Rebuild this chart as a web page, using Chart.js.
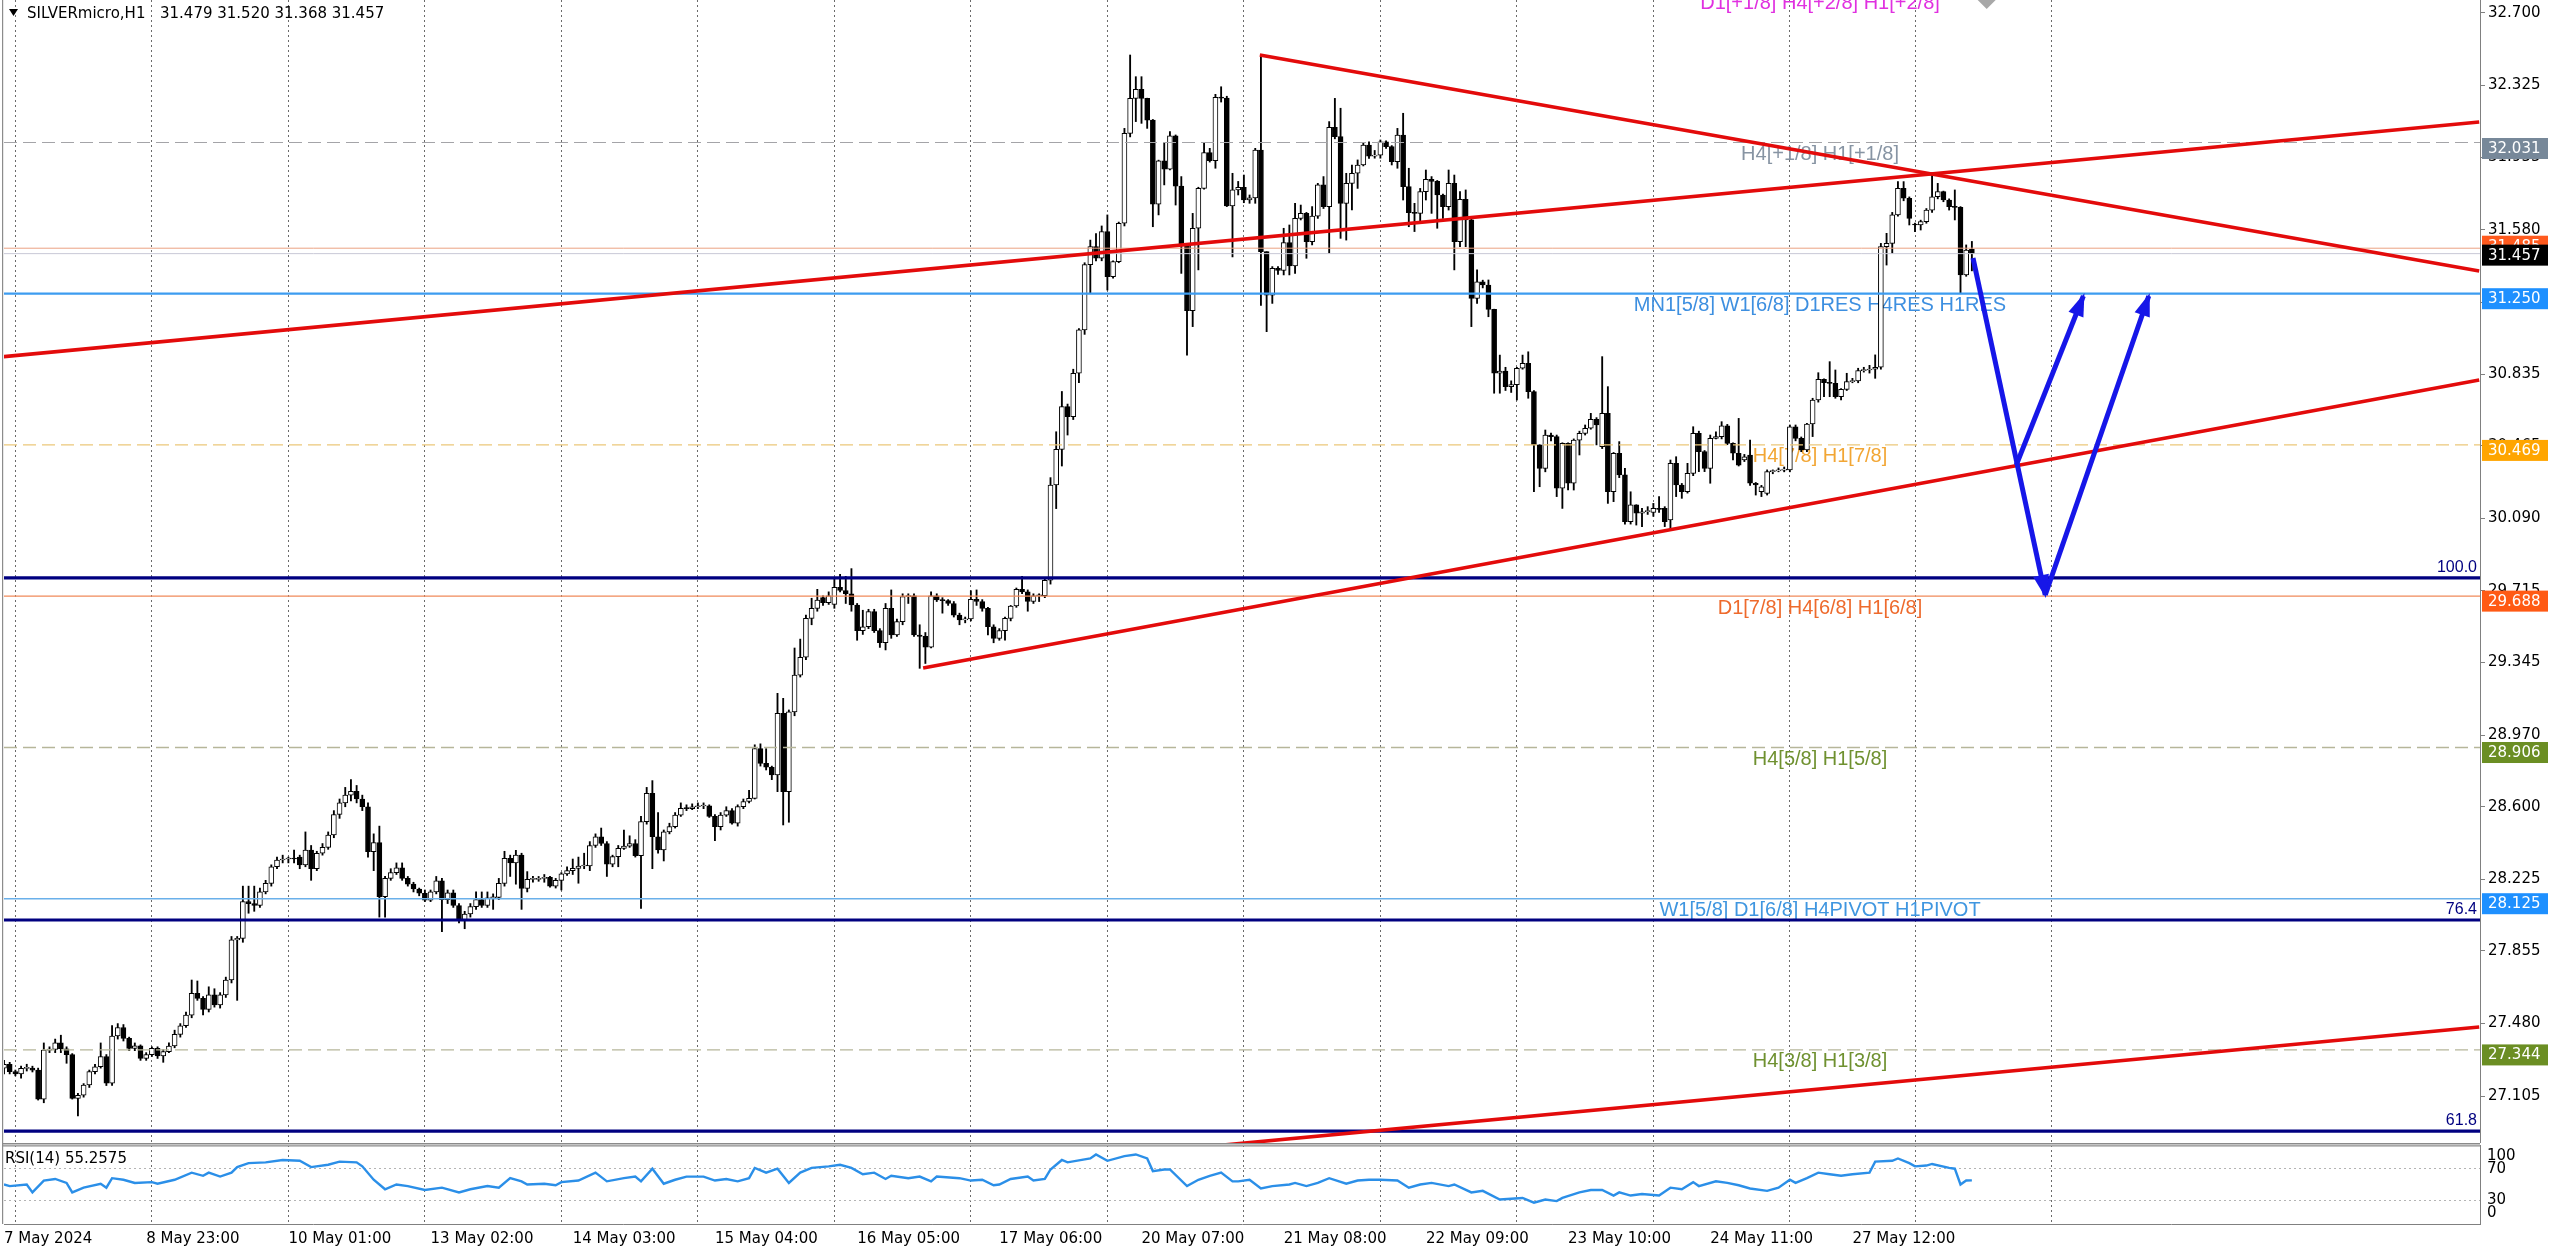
<!DOCTYPE html>
<html>
<head>
<meta charset="utf-8">
<script src="https://cdn.jsdelivr.net/npm/chart.js@4.4.1/dist/chart.umd.min.js"></script>
<style>
  html, body { margin: 0; padding: 0; background: #fff; width: 2560px; height: 1249px; overflow: hidden; }
  .pane { position: absolute; left: 0; }
</style>
</head>
<body>
<div class="pane" style="top:0;width:2560px;height:1143px"><canvas id="main" width="2560" height="1143"></canvas></div>
<div class="pane" style="top:1143px;width:2560px;height:106px"><canvas id="rsi" width="2560" height="106"></canvas></div>
<script>
// SILVERmicro H1 candles, one entry per bar (bar index = array index)
const opens = [
  27.25,27.27,27.232,27.22,27.249,27.25,27.24,27.09,27.343,27.347,
  27.38,27.35,27.32,27.094,27.11,27.163,27.232,27.257,27.31,27.172,
  27.416,27.46,27.404,27.352,27.365,27.30,27.32,27.352,27.313,27.335,
  27.364,27.424,27.469,27.524,27.636,27.61,27.553,27.628,27.576,27.628,
  27.705,27.912,27.92,28.11,28.10,28.09,28.16,28.204,28.29,28.325,
  28.33,28.332,28.34,28.30,28.376,28.28,28.36,28.39,28.454,28.56,
  28.62,28.66,28.68,28.64,28.60,28.368,28.415,28.135,28.23,28.26,
  28.285,28.23,28.20,28.175,28.153,28.118,28.16,28.218,28.12,28.155,
  28.09,28.015,28.046,28.084,28.12,28.09,28.13,28.132,28.204,28.333,
  28.31,28.35,28.178,28.225,28.225,28.23,28.235,28.19,28.22,28.253,
  28.27,28.282,28.294,28.295,28.40,28.445,28.41,28.304,28.342,28.385,
  28.397,28.41,28.347,28.523,28.669,28.445,28.377,28.47,28.497,28.557,
  28.592,28.59,28.60,28.604,28.605,28.55,28.497,28.557,28.58,28.515,
  28.601,28.627,28.643,28.90,28.824,28.804,28.764,29.083,28.678,29.09,
  29.28,29.372,29.573,29.625,29.68,29.654,29.645,29.733,29.717,29.70,
  29.642,29.51,29.53,29.608,29.51,29.447,29.625,29.487,29.556,29.685,
  29.69,29.487,29.48,29.424,29.689,29.668,29.665,29.65,29.59,29.565,
  29.57,29.671,29.66,29.625,29.53,29.47,29.51,29.573,29.637,29.723,
  29.71,29.66,29.69,29.69,29.77,30.262,30.446,30.667,30.615,30.839,
  31.063,31.40,31.493,31.433,31.571,31.338,31.416,31.614,32.078,32.259,
  32.306,32.259,32.147,31.713,31.937,31.893,32.065,31.806,31.502,31.162,
  31.588,31.794,31.979,31.937,32.264,32.26,31.703,31.786,31.80,31.734,
  31.745,31.992,31.467,31.243,31.381,31.37,31.514,31.393,31.639,31.665,
  31.519,31.651,31.812,31.70,32.109,32.061,31.717,31.82,31.872,31.915,
  32.018,31.961,31.965,32.035,32.01,31.932,32.07,31.803,31.669,31.665,
  31.777,31.841,31.83,31.76,31.70,31.82,31.519,31.737,31.631,31.226,
  31.312,31.295,31.169,30.839,30.85,30.77,30.78,30.865,30.89,30.744,
  30.469,30.348,30.52,30.512,30.245,30.477,30.271,30.494,30.529,30.555,
  30.601,30.46,30.632,30.227,30.426,30.314,30.073,30.159,30.116,30.124,
  30.12,30.141,30.141,30.081,30.374,30.262,30.227,30.322,30.529,30.434,
  30.348,30.503,30.512,30.567,30.477,30.426,30.391,30.417,30.271,30.227,
  30.219,30.331,30.335,30.339,30.34,30.563,30.503,30.443,30.577,30.701,
  30.808,30.791,30.787,30.718,30.756,30.796,30.80,30.853,30.856,30.86,
  30.87,31.493,31.51,31.657,31.794,31.743,31.61,31.605,31.622,31.682,
  31.751,31.777,31.734,31.70,31.696,31.347,31.479
];
const highs = [
  27.29,27.28,27.24,27.26,27.27,27.26,27.25,27.38,27.36,27.40,
  27.42,27.36,27.325,27.12,27.17,27.24,27.27,27.38,27.32,27.47,
  27.48,27.475,27.41,27.38,27.37,27.33,27.36,27.36,27.345,27.38,
  27.446,27.48,27.54,27.705,27.70,27.62,27.67,27.66,27.64,27.72,
  27.93,27.93,28.19,28.19,28.19,28.18,28.22,28.30,28.34,28.35,
  28.34,28.376,28.35,28.47,28.40,28.37,28.41,28.47,28.58,28.64,
  28.70,28.74,28.71,28.66,28.62,28.46,28.50,28.24,28.28,28.31,
  28.31,28.24,28.21,28.18,28.17,28.17,28.24,28.23,28.17,28.17,
  28.10,28.06,28.10,28.16,28.16,28.16,28.15,28.23,28.37,28.35,
  28.375,28.36,28.265,28.24,28.24,28.25,28.24,28.23,28.26,28.29,
  28.33,28.34,28.36,28.42,28.46,28.49,28.42,28.35,28.40,28.48,
  28.45,28.43,28.55,28.70,28.735,28.57,28.48,28.515,28.57,28.62,
  28.61,28.615,28.62,28.62,28.61,28.56,28.57,28.60,28.59,28.61,
  28.64,28.685,28.92,28.925,28.90,28.81,29.186,29.16,29.10,29.42,
  29.466,29.59,29.677,29.723,29.69,29.71,29.785,29.80,29.79,29.83,
  29.65,29.615,29.62,29.62,29.52,29.65,29.72,29.57,29.70,29.70,
  29.70,29.54,29.50,29.71,29.70,29.68,29.67,29.66,29.60,29.58,
  29.716,29.72,29.67,29.63,29.54,29.52,29.58,29.64,29.73,29.79,
  29.72,29.70,29.70,29.78,30.30,30.537,30.745,30.68,30.86,31.07,
  31.41,31.527,31.56,31.60,31.657,31.42,31.62,32.104,32.483,32.371,
  32.371,32.26,32.15,31.94,32.027,32.087,32.07,31.855,31.51,31.665,
  31.80,32.027,32.001,32.28,32.319,32.27,31.872,31.83,31.863,31.76,
  32.001,32.483,31.467,31.39,31.39,31.588,31.605,31.717,31.708,31.67,
  31.70,31.82,31.855,32.139,32.259,32.208,31.872,31.915,31.941,32.03,
  32.035,31.99,32.044,32.04,32.015,32.104,32.182,31.898,31.717,31.794,
  31.889,31.855,31.835,31.765,31.889,31.863,31.777,31.786,31.635,31.373,
  31.32,31.321,31.17,30.933,30.87,30.80,30.87,30.933,30.95,30.75,
  30.47,30.546,30.53,30.52,30.48,30.48,30.50,30.54,30.572,30.632,
  30.61,30.925,30.77,30.43,30.486,30.348,30.227,30.16,30.141,30.15,
  30.167,30.202,30.15,30.391,30.408,30.27,30.374,30.563,30.54,30.44,
  30.52,30.537,30.589,30.575,30.48,30.606,30.42,30.494,30.275,30.26,
  30.34,30.34,30.35,30.355,30.572,30.572,30.51,30.58,30.71,30.842,
  30.81,30.899,30.856,30.76,30.839,30.813,30.865,30.87,30.88,30.934,
  31.51,31.562,31.67,31.829,31.829,31.75,31.615,31.63,31.69,31.863,
  31.82,31.78,31.74,31.786,31.70,31.502,31.52
];
const lows = [
  27.22,27.22,27.21,27.198,27.235,27.23,27.085,27.071,27.33,27.33,
  27.33,27.275,27.09,27.003,27.10,27.15,27.22,27.25,27.16,27.16,
  27.40,27.39,27.34,27.34,27.29,27.29,27.31,27.30,27.28,27.33,
  27.355,27.41,27.46,27.51,27.60,27.525,27.54,27.565,27.56,27.615,
  27.69,27.60,27.90,28.05,28.06,28.08,28.15,28.19,28.28,28.31,
  28.31,28.31,28.28,28.29,28.22,28.27,28.35,28.38,28.44,28.54,
  28.60,28.63,28.62,28.58,28.34,28.27,28.03,28.03,28.22,28.25,
  28.22,28.19,28.16,28.14,28.11,28.11,28.15,27.955,28.10,28.08,
  28.00,27.97,28.03,28.07,28.08,28.08,28.07,28.12,28.19,28.24,
  28.20,28.07,28.16,28.21,28.215,28.21,28.185,28.18,28.17,28.245,
  28.25,28.205,28.28,28.27,28.39,28.40,28.24,28.29,28.29,28.38,
  28.39,28.34,28.075,28.51,28.28,28.36,28.32,28.46,28.49,28.55,
  28.58,28.585,28.59,28.59,28.545,28.425,28.48,28.55,28.51,28.50,
  28.59,28.62,28.64,28.81,28.79,28.74,28.678,28.506,28.52,29.07,
  29.27,29.36,29.54,29.61,29.64,29.645,29.625,29.71,29.65,29.61,
  29.46,29.49,29.52,29.50,29.423,29.41,29.47,29.48,29.54,29.65,
  29.48,29.315,29.34,29.42,29.66,29.60,29.64,29.58,29.54,29.55,
  29.56,29.64,29.61,29.487,29.447,29.46,29.46,29.56,29.63,29.70,
  29.61,29.65,29.66,29.68,29.75,30.14,30.36,30.52,30.60,30.79,
  31.04,31.25,31.42,31.42,31.269,31.33,31.41,31.60,32.06,32.139,
  32.13,32.104,31.596,31.657,31.812,31.89,31.708,31.355,30.933,31.08,
  31.373,31.79,31.93,31.898,32.24,31.70,31.44,31.76,31.72,31.717,
  31.717,31.19,31.054,31.20,31.35,31.347,31.347,31.355,31.631,31.433,
  31.502,31.639,31.69,31.459,32.05,31.536,31.527,31.683,31.794,31.91,
  31.949,31.95,31.95,32.00,31.915,31.898,31.734,31.596,31.571,31.614,
  31.734,31.665,31.588,31.639,31.682,31.373,31.493,31.493,31.080,31.200,
  31.28,31.131,30.736,30.736,30.75,30.74,30.701,30.86,30.71,30.228,
  30.253,30.33,30.49,30.202,30.141,30.236,30.236,30.417,30.52,30.55,
  30.469,30.45,30.167,30.176,30.30,30.06,30.06,30.055,30.047,30.11,
  30.10,30.12,30.047,30.038,30.202,30.193,30.22,30.31,30.331,30.331,
  30.271,30.50,30.50,30.47,30.391,30.36,30.383,30.26,30.210,30.202,
  30.21,30.32,30.33,30.33,30.33,30.49,30.434,30.434,30.512,30.69,
  30.718,30.718,30.71,30.701,30.75,30.79,30.79,30.845,30.84,30.813,
  30.86,31.398,31.459,31.65,31.73,31.605,31.571,31.579,31.614,31.67,
  31.74,31.725,31.682,31.631,31.252,31.34,31.368
];
const closes = [
  27.27,27.232,27.22,27.249,27.25,27.24,27.09,27.343,27.347,27.38,
  27.35,27.32,27.094,27.11,27.163,27.232,27.257,27.31,27.172,27.416,
  27.46,27.404,27.352,27.365,27.30,27.32,27.352,27.313,27.335,27.364,
  27.424,27.469,27.524,27.636,27.61,27.553,27.628,27.576,27.628,27.705,
  27.912,27.92,28.11,28.10,28.09,28.16,28.204,28.29,28.325,28.33,
  28.332,28.33,28.30,28.376,28.28,28.36,28.39,28.454,28.56,28.62,
  28.66,28.68,28.64,28.60,28.368,28.415,28.135,28.23,28.26,28.285,
  28.23,28.20,28.175,28.153,28.118,28.16,28.218,28.12,28.155,28.09,
  28.015,28.046,28.084,28.12,28.09,28.13,28.132,28.204,28.333,28.31,
  28.35,28.178,28.225,28.225,28.23,28.235,28.19,28.22,28.253,28.27,
  28.282,28.294,28.295,28.40,28.445,28.41,28.304,28.342,28.385,28.397,
  28.41,28.347,28.523,28.669,28.445,28.377,28.47,28.497,28.557,28.592,
  28.59,28.60,28.604,28.605,28.55,28.497,28.557,28.58,28.515,28.601,
  28.627,28.643,28.90,28.824,28.804,28.764,29.083,28.678,29.09,29.28,
  29.372,29.573,29.625,29.668,29.654,29.69,29.733,29.717,29.70,29.642,
  29.51,29.53,29.608,29.51,29.447,29.625,29.487,29.556,29.685,29.69,
  29.487,29.48,29.424,29.689,29.668,29.665,29.65,29.59,29.565,29.57,
  29.671,29.66,29.625,29.53,29.47,29.51,29.573,29.637,29.723,29.71,
  29.66,29.69,29.69,29.77,30.262,30.446,30.667,30.615,30.839,31.063,
  31.40,31.493,31.433,31.571,31.338,31.416,31.614,32.078,32.259,32.306,
  32.259,32.147,31.713,31.937,31.893,32.065,31.806,31.502,31.162,31.588,
  31.794,31.979,31.937,32.264,32.26,31.703,31.786,31.80,31.734,31.745,
  31.992,31.467,31.243,31.381,31.37,31.514,31.393,31.639,31.665,31.519,
  31.651,31.812,31.70,32.109,32.061,31.717,31.82,31.872,31.915,32.018,
  31.961,31.965,32.035,32.01,31.932,32.07,31.803,31.669,31.665,31.777,
  31.841,31.83,31.76,31.70,31.82,31.519,31.737,31.631,31.226,31.312,
  31.295,31.169,30.839,30.85,30.77,30.78,30.865,30.89,30.744,30.469,
  30.348,30.52,30.512,30.245,30.477,30.271,30.494,30.529,30.555,30.601,
  30.572,30.632,30.227,30.426,30.314,30.073,30.159,30.116,30.124,30.13,
  30.141,30.136,30.073,30.374,30.262,30.227,30.322,30.529,30.434,30.348,
  30.503,30.512,30.567,30.477,30.426,30.365,30.408,30.271,30.262,30.253,
  30.331,30.335,30.339,30.34,30.563,30.503,30.443,30.577,30.701,30.808,
  30.791,30.787,30.718,30.756,30.796,30.80,30.853,30.856,30.86,30.87,
  31.493,31.51,31.657,31.794,31.743,31.639,31.605,31.622,31.682,31.751,
  31.777,31.734,31.70,31.696,31.347,31.476,31.457
];

// RSI(14): bar index and value
const rsiBars = [0,1,4,5,7,9,11,12,14,17,18,19,21,23,26,27,30,33,35,36,38,40,41,43,46,49,52,54,57,59,
  62,63,65,67,69,71,74,77,80,82,85,87,89,91,92,95,97,98,101,104,106,109,111,112,114,116,118,120,123,125,
  127,129,131,132,134,136,138,140,142,145,147,149,151,153,155,156,159,161,163,164,168,170,172,174,175,177,180,181,183,184,
  186,187,191,192,194,197,199,201,202,204,205,208,210,212,214,216,217,219,221,223,226,227,229,231,233,236,238,240,242,245,
  247,249,251,254,255,258,260,263,265,267,269,271,273,274,277,279,281,283,284,286,288,291,293,295,297,298,301,303,305,307,
  310,312,314,315,317,319,321,323,325,328,329,332,333,335,336,338,339,342,343,344,345,346];
const rsiValues = [50,48,50,40,55,57,52,40,46,51,46,58,56,52,53,51,56,65,61,65,60,65,72,77,78,81,80,72,75,79,
  78,73,56,44,50,48,43,46,40,44,48,46,58,54,50,51,49,53,55,65,54,58,60,54,70,51,56,60,60,55,
  57,54,58,71,65,70,52,65,71,73,75,71,63,65,57,61,58,60,54,60,58,55,56,49,50,57,60,55,57,69,
  81,78,83,88,80,86,88,83,67,69,69,48,56,61,65,54,54,56,45,48,50,52,48,52,58,51,55,56,56,55,
  46,50,52,48,50,40,42,31,32,33,27,31,29,33,40,43,43,36,40,36,38,36,46,44,53,48,54,52,49,45,
  42,46,56,52,58,65,63,61,63,65,79,80,83,77,73,74,76,71,70,50,55,55.2575];

// price axis ticks and time axis
const priceTicks = [32.700,32.325,31.955,31.580,31.205,30.835,30.465,30.090,29.715,29.345,28.970,28.600,28.225,27.855,27.480,27.105];
const gridBars = [2,26,50,74,98,122,146,170,194,218,242,266,290,314,336,360];
const labelBars = [0,25,50,75,100,125,150,175,200,225,250,275,300,325];
const labelTexts = ['7 May 2024','8 May 23:00','10 May 01:00','13 May 02:00','14 May 03:00','15 May 04:00','16 May 05:00',
  '17 May 06:00','20 May 07:00','21 May 08:00','22 May 09:00','23 May 10:00','24 May 11:00','27 May 12:00'];

// horizontal levels (price, description)
const levelPrices = [32.8125, 32.031, 31.485, 31.457, 31.250, 30.469, 29.688, 28.906, 28.125, 27.344];
const levelTexts = ['D1[+1/8] H4[+2/8] H1[+2/8]', 'H4[+1/8] H1[+1/8]', '', '', 'MN1[5/8] W1[6/8] D1RES H4RES H1RES',
  'H4[7/8] H1[7/8]', 'D1[7/8] H4[6/8] H1[6/8]', 'H4[5/8] H1[5/8]', 'W1[5/8] D1[6/8] H4PIVOT H1PIVOT', 'H4[3/8] H1[3/8]'];
const fibPrices = [29.782, 28.015, 26.925];
const fibTexts = ['100.0', '76.4', '61.8'];

// drawn trend lines and arrows: [bar, price] end points
const trendUpper = [[-0.7, 30.923], [435.2, 32.137]];
const trendDown = [[220.8, 32.483], [435.2, 31.367]];
const trendMid = [[161.6, 29.317], [435.2, 30.804]];
const trendLow = [[200, 26.813], [435.2, 27.462]];
const arrowDown = [[346.2, 31.434], [358.9, 29.694]];
const arrowUp1 = [[353.8, 30.365], [365.6, 31.238]];
const arrowUp2 = [[358.9, 29.694], [377.1, 31.238]];

const symbolName = 'SILVERmicro,H1';

// ---- styles / layout ----
const UI_FONT = '"DejaVu Sans", Tahoma, sans-serif';
const LBL_FONT = '"Liberation Sans", Arial, sans-serif';
const X_MAX = 2476 / 5.6875;
const Y_MAX = 32.7671, Y_MIN = 26.8632;
const levelLabelBar = 319.3;
const levelStyles = [
  { line: 'rgba(0,0,0,0)', width: 1, dash: [], text: '#e030e0' },
  { line: '#a4a4a8', width: 1.2, dash: [13, 6], text: '#8794a3', box: '#778899', shift: 6 },
  { line: '#eba283', width: 1, dash: [], text: '', box: '#ff5a1e', shift: -2 },
  { line: '#c9c9d6', width: 1, dash: [], text: '', box: '#000000', shift: 1.5 },
  { line: '#3d9cf0', width: 2.2, dash: [], text: '#3d8fe0', box: '#1e90ff', shift: 5 },
  { line: '#ecc77a', width: 1.3, dash: [13, 6], text: '#f2a634', box: '#ffa500', shift: 5.5 },
  { line: '#f08a5a', width: 1.2, dash: [], text: '#ee6a2c', box: '#ff5a14', shift: 5 },
  { line: '#b6b69a', width: 1.3, dash: [13, 6], text: '#6f9130', box: '#6b8e23', shift: 5 },
  { line: '#6ab0ea', width: 1.6, dash: [], text: '#3f96e0', box: '#1e90ff', shift: 5 },
  { line: '#b6b69a', width: 1.3, dash: [13, 6], text: '#6f9130', box: '#6b8e23', shift: 5 }
];

Chart.defaults.font.family = UI_FONT;
Chart.defaults.animation = false;

const bars = closes.map((c, i) => i);
const seg = pts => pts.map(p => ({ x: p[0], y: p[1] }));
const zeroPad = s => { s.paddingTop = 0; s.paddingBottom = 0; s.paddingLeft = 0; s.paddingRight = 0; };
const gridColor = c => (c.tick && gridBars.includes(c.tick.value)) ? '#6a6a6a' : 'rgba(0,0,0,0)';
const xTickValues = [...new Set([...gridBars, ...labelBars])].sort((a, b) => a - b);

const lineDs = (pts, color, width, order, dash) => ({
  type: 'line', data: seg(pts), borderColor: color, borderWidth: width, borderDash: dash || [],
  pointRadius: 0, fill: false, tension: 0, order: order
});

const datasets = [
  { type: 'bar', data: bars.map(i => ({ x: i, y: [lows[i], highs[i]] })), backgroundColor: '#000',
    barThickness: 1.2, grouped: false, order: 10 },
  { type: 'bar', data: bars.map(i => ({ x: i, y: [opens[i], closes[i]] })),
    backgroundColor: bars.map(i => closes[i] >= opens[i] ? '#ffffff' : '#000000'),
    borderColor: '#000', borderWidth: 1, borderSkipped: false, barThickness: 5, minBarLength: 1,
    grouped: false, order: 9 }
];
levelPrices.forEach((p, i) => {
  const s = levelStyles[i];
  datasets.push(lineDs([[0, p], [X_MAX + 1, p]], s.line, s.width, 6, s.dash));
});
fibPrices.forEach(p => datasets.push(lineDs([[0, p], [X_MAX + 1, p]], '#000080', 3.2, 5)));
[trendUpper, trendDown, trendMid, trendLow].forEach(t => datasets.push(lineDs(t, '#e30b0b', 3.6, 4)));
[arrowDown, arrowUp1, arrowUp2].forEach(a => datasets.push(lineDs(a, '#1616e8', 5, 3)));

const mainOverlay = {
  id: 'mainOverlay',
  // descriptions sit behind candles and drawn lines, like in the terminal
  beforeDatasetsDraw(chart) {
    const { ctx, chartArea: a, scales: { x, y } } = chart;
    ctx.save();
    ctx.font = '20px ' + LBL_FONT;
    ctx.textAlign = 'center';
    ctx.textBaseline = 'middle';
    levelPrices.forEach((p, i) => {
      if (!levelTexts[i]) return;
      ctx.fillStyle = levelStyles[i].text;
      ctx.fillText(levelTexts[i], x.getPixelForValue(levelLabelBar), y.getPixelForValue(p) + 12);
    });
    ctx.font = '16px ' + LBL_FONT;
    ctx.textAlign = 'right';
    ctx.textBaseline = 'bottom';
    ctx.fillStyle = '#000080';
    fibPrices.forEach((p, i) => ctx.fillText(fibTexts[i], a.right - 3, y.getPixelForValue(p) - 2));
    ctx.restore();
  },
  afterDraw(chart) {
    const { ctx, chartArea: a, scales: { x, y } } = chart;
    ctx.save();
    ctx.fillStyle = '#8c8c8c';
    ctx.fillRect(2, 0, 1.2, chart.height);

    // arrow heads
    ctx.fillStyle = '#1616e8';
    [arrowDown, arrowUp1, arrowUp2].forEach(s => {
      const x0 = x.getPixelForValue(s[0][0]), y0 = y.getPixelForValue(s[0][1]);
      const x1 = x.getPixelForValue(s[1][0]), y1 = y.getPixelForValue(s[1][1]);
      const len = Math.hypot(x1 - x0, y1 - y0), ux = (x1 - x0) / len, uy = (y1 - y0) / len;
      const L = 20, W = 8;
      ctx.beginPath();
      ctx.moveTo(x1 + ux * 3, y1 + uy * 3);
      ctx.lineTo(x1 - ux * L - uy * W, y1 - uy * L + ux * W);
      ctx.lineTo(x1 - ux * L + uy * W, y1 - uy * L - ux * W);
      ctx.closePath();
      ctx.fill();
    });

    // price tags on the axis
    ctx.font = '15px ' + UI_FONT;
    ctx.textAlign = 'left';
    ctx.textBaseline = 'middle';
    levelPrices.forEach((p, i) => {
      const s = levelStyles[i];
      if (!s.box) return;
      const cy = y.getPixelForValue(p) + s.shift;
      ctx.fillStyle = s.box;
      ctx.fillRect(a.right + 2, cy - 10.5, 66, 21);
      ctx.fillStyle = '#ffffff';
      ctx.fillText(p.toFixed(3), a.right + 8, cy + 0.5);
    });

    // chart shift marker
    const sx = x.getPixelForValue(348.6);
    ctx.fillStyle = '#a8a8a8';
    ctx.beginPath();
    ctx.moveTo(sx - 9, 0); ctx.lineTo(sx + 9, 0); ctx.lineTo(sx, 9); ctx.closePath(); ctx.fill();

    // header
    const last = closes.length - 1;
    ctx.fillStyle = '#000';
    ctx.beginPath();
    ctx.moveTo(9, 9); ctx.lineTo(18, 9); ctx.lineTo(13.5, 16); ctx.closePath(); ctx.fill();
    ctx.font = '15px ' + UI_FONT;
    ctx.fillText(symbolName, 27, 14);
    ctx.fillText([opens[last], highs[last], lows[last], closes[last]].map(v => v.toFixed(3)).join(' '), 160, 14);
    ctx.restore();
  }
};

new Chart(document.getElementById('main'), {
  type: 'bar',
  data: { datasets },
  options: {
    responsive: false,
    events: [],
    layout: { padding: { left: 4, right: 0, top: 0, bottom: 0 } },
    plugins: { legend: { display: false }, tooltip: { enabled: false } },
    scales: {
      x: {
        type: 'linear', min: 0, max: X_MAX, offset: false,
        afterBuildTicks: s => { s.ticks = gridBars.map(v => ({ value: v })); },
        afterFit: s => { s.height = 0; zeroPad(s); },
        ticks: { display: false },
        grid: { offset: false, drawTicks: false, color: gridColor, lineWidth: 1 },
        border: { display: false, dash: [2, 3] }
      },
      y: {
        type: 'linear', position: 'right', min: Y_MIN, max: Y_MAX,
        afterBuildTicks: s => { s.ticks = priceTicks.map(v => ({ value: v })); },
        afterFit: s => { s.width = 80; zeroPad(s); },
        ticks: { callback: v => v.toFixed(3), font: { size: 15 }, color: '#000', padding: 3, autoSkip: false },
        grid: { drawOnChartArea: false, drawTicks: true, tickLength: 5, color: '#808080' },
        border: { display: true, color: '#808080', width: 1 }
      }
    }
  },
  plugins: [mainOverlay]
});

const rsiOverlay = {
  id: 'rsiOverlay',
  afterDraw(chart) {
    const { ctx, chartArea: a, scales: { y } } = chart;
    ctx.save();
    ctx.fillStyle = '#c4c4c4';
    ctx.fillRect(2, 0, a.right - 2, 3);
    ctx.fillStyle = '#8a8a8a';
    ctx.fillRect(2, 0, a.right - 2, 1);
    ctx.fillRect(2, 2.5, a.right - 2, 1);
    ctx.fillStyle = '#8c8c8c';
    ctx.fillRect(2, 0, 1.2, a.bottom);
    ctx.fillStyle = '#000';
    ctx.font = '15px ' + UI_FONT;
    ctx.textAlign = 'left';
    ctx.textBaseline = 'middle';
    ctx.fillText('RSI(14) ' + rsiValues[rsiValues.length - 1], 5, 16);
    [100, 70, 30, 0].forEach(v => {
      const py = Math.min(Math.max(y.getPixelForValue(v), a.top + 11), a.bottom - 11);
      ctx.fillText(String(v), a.right + 7, py);
    });
    ctx.restore();
  }
};

new Chart(document.getElementById('rsi'), {
  type: 'line',
  data: {
    datasets: [{
      data: rsiBars.map((b, i) => ({ x: b, y: rsiValues[i] })),
      borderColor: '#2b8fe8', borderWidth: 2.4, pointRadius: 0, tension: 0, fill: false
    }]
  },
  options: {
    responsive: false,
    events: [],
    layout: { padding: { left: 4, right: 0, top: 2, bottom: 0 } },
    plugins: { legend: { display: false }, tooltip: { enabled: false } },
    scales: {
      x: {
        type: 'linear', min: 0, max: X_MAX, offset: false,
        afterBuildTicks: s => { s.ticks = xTickValues.map(v => ({ value: v })); },
        afterFit: s => { s.height = 25; zeroPad(s); },
        ticks: {
          autoSkip: false, maxRotation: 0, minRotation: 0, align: 'start', padding: 6,
          font: { size: 15 }, color: '#000',
          callback: v => { const k = labelBars.indexOf(v); return k < 0 ? '' : labelTexts[k]; }
        },
        grid: { offset: false, drawTicks: false, color: gridColor, lineWidth: 1 },
        border: { display: true, color: '#808080', width: 1, dash: [2, 3] }
      },
      y: {
        type: 'linear', position: 'right', min: 0, max: 100,
        afterBuildTicks: s => { s.ticks = [30, 70].map(v => ({ value: v })); },
        afterFit: s => { s.width = 80; zeroPad(s); },
        ticks: { display: false },
        grid: { drawTicks: false, color: '#b4b4b4', lineWidth: 1 },
        border: { display: true, color: '#808080', width: 1, dash: [2, 3] }
      }
    }
  },
  plugins: [rsiOverlay]
});
</script>
</body>
</html>
